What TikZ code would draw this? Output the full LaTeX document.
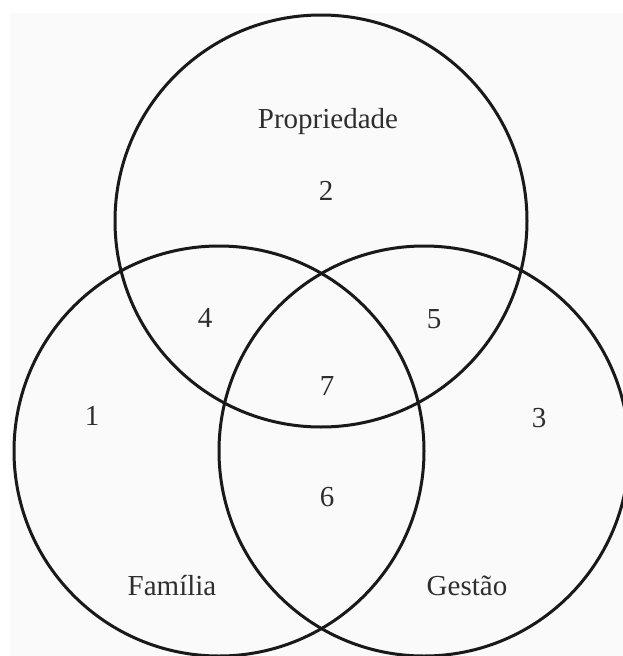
\documentclass[tikz,border=0pt]{standalone}
\usepackage{fontspec}
\setmainfont{Liberation Serif}
\begin{document}
\begin{tikzpicture}[x=1pt,y=-1pt,
  ring/.style={line width=3pt,draw=black!90},
  lbl/.style={font=\fontsize{29}{31}\selectfont,text=black!82,inner sep=0pt}]
\useasboundingbox (0,0) rectangle (623,656);
\fill[white] (0,0) rectangle (623,656);
\fill[black!2] (10,13) rectangle (623,656);
\clip (0,0) rectangle (623,656);
\coordinate (cP) at (321,221);
\coordinate (cF) at (219,451);
\coordinate (cG) at (424,451);
\draw[ring] (cP) circle (206);
\draw[ring] (cF) circle (205);
\draw[ring] (cG) circle (205);
\node[lbl] (prop) at (328,122) {Propriedade};
\node[lbl] (fam) at (172,586) {Família};
\node[lbl] (gest) at (467,586) {Gestão};
\node[lbl] (n1) at (92,416) {1};
\node[lbl] (n2) at (326,191) {2};
\node[lbl] (n3) at (539,418) {3};
\node[lbl] (n4) at (205,318) {4};
\node[lbl] (n5) at (434,319) {5};
\node[lbl] (n6) at (327,497) {6};
\node[lbl] (n7) at (327,386) {7};
\end{tikzpicture}
\end{document}
